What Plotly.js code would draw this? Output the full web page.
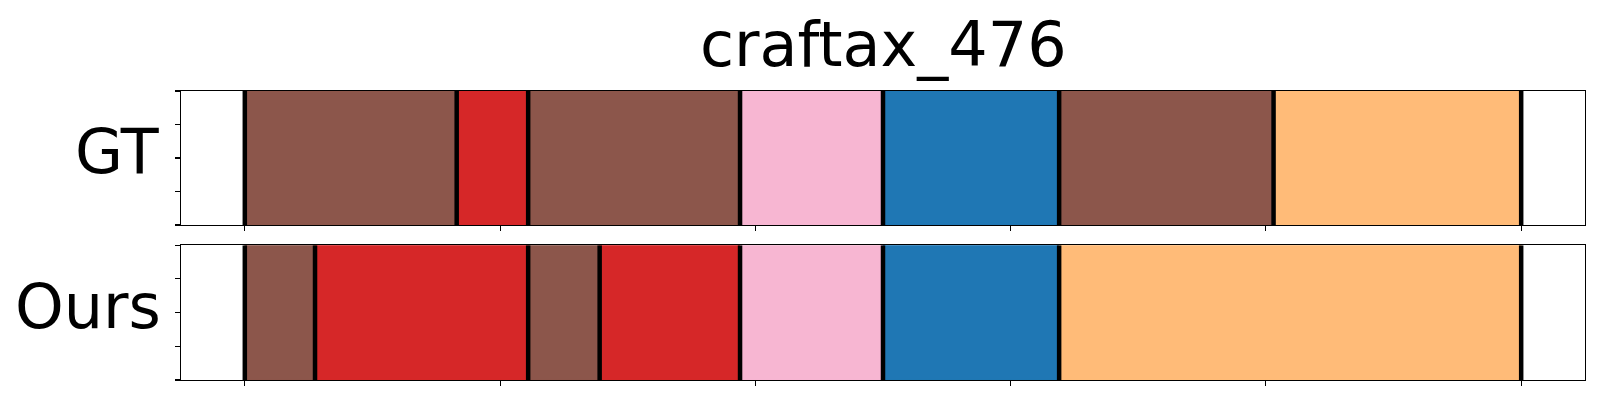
<!DOCTYPE html>
<html>
<head>
<meta charset="utf-8">
<script src="https://cdn.plot.ly/plotly-3.0.1.min.js"></script>
<style>html,body{margin:0;padding:0;background:#fff;}</style>
</head>
<body>
<div id="chart" style="width:1600px;height:400px;"></div>
<script>
// ---- data ----
const chartTitle = "craftax_476";
const rowLabels = ["GT", "Ours"];
const gtBounds = [0, 83, 111, 194, 250, 319, 403, 500];
const gtSegments = ["brown", "red", "brown", "pink", "blue", "brown", "orange"];
const oursBounds = [0, 27.5, 111, 139, 194, 250, 319, 500];
const oursSegments = ["brown", "red", "brown", "red", "pink", "blue", "orange"];
const xTicks = [0, 100, 200, 300, 400, 500];
const yTicks = [0, 0.25, 0.5, 0.75, 1];
const palette = {brown: "#8c564b", red: "#d62728", pink: "#f7b6d2", blue: "#1f77b4", orange: "#ffbb78"};

function segTrace(bounds, segs, xaxis, yaxis) {
  const base = [], len = [], ys = [], cols = [];
  for (let i = 0; i < segs.length; i++) {
    base.push(bounds[i]);
    len.push(bounds[i + 1] - bounds[i]);
    ys.push(0.5);
    cols.push(palette[segs[i]]);
  }
  return {
    type: "bar", orientation: "h", base: base, x: len, y: ys, width: 1,
    marker: {color: cols, line: {color: cols, width: 1}},
    xaxis: xaxis, yaxis: yaxis, hoverinfo: "skip", showlegend: false
  };
}
function lineTrace(bounds, xaxis, yaxis) {
  const xs = [], ys = [];
  bounds.forEach(b => { xs.push(b, b, null); ys.push(0, 1, null); });
  return {
    type: "scatter", mode: "lines", x: xs, y: ys,
    line: {color: "#000", width: 4.5},
    xaxis: xaxis, yaxis: yaxis, hoverinfo: "skip", showlegend: false
  };
}

const traces = [
  segTrace(gtBounds, gtSegments, "x", "y"),
  lineTrace(gtBounds, "x", "y"),
  segTrace(oursBounds, oursSegments, "x2", "y2"),
  lineTrace(oursBounds, "x2", "y2")
];

const axCommon = {
  showline: true, mirror: true, linecolor: "#000", linewidth: 1.1,
  ticks: "outside", ticklen: 5, tickwidth: 1.1, tickcolor: "#000",
  showticklabels: false, showgrid: false, zeroline: false, fixedrange: true
};

const layout = {
  width: 1600, height: 400,
  margin: {l: 181, r: 14.5, t: 90.7, b: 19.7, pad: 0},
  paper_bgcolor: "#fff", plot_bgcolor: "#fff",
  barmode: "overlay", bargap: 0,
  font: {family: "DejaVu Sans", color: "#000"},
  xaxis: Object.assign({}, axCommon, {range: [-25, 525], tickvals: xTicks, anchor: "y"}),
  xaxis2: Object.assign({}, axCommon, {range: [-25, 525], tickvals: xTicks, anchor: "y2"}),
  yaxis: Object.assign({}, axCommon, {range: [0, 1], tickvals: yTicks, domain: [0.5363, 1], anchor: "x"}),
  yaxis2: Object.assign({}, axCommon, {range: [0, 1], tickvals: yTicks, domain: [0, 0.4662], anchor: "x2"}),
  annotations: [
    {text: chartTitle, xref: "paper", yref: "paper", x: 0.5, xanchor: "center",
     y: (380.3 - 44) / 289.6, yanchor: "middle", showarrow: false,
     font: {family: "DejaVu Sans", size: 62, color: "#000"}},
    {text: rowLabels[0], xref: "paper", yref: "paper", x: (162 - 181) / 1404.5, xanchor: "right",
     y: (380.3 - 151) / 289.6, yanchor: "middle", showarrow: false,
     font: {family: "DejaVu Sans", size: 62, color: "#000"}},
    {text: rowLabels[1], xref: "paper", yref: "paper", x: (163 - 181) / 1404.5, xanchor: "right",
     y: (380.3 - 307) / 289.6, yanchor: "middle", showarrow: false,
     font: {family: "DejaVu Sans", size: 62, color: "#000"}}
  ]
};

Plotly.newPlot("chart", traces, layout, {displayModeBar: false, staticPlot: true});
</script>
</body>
</html>
